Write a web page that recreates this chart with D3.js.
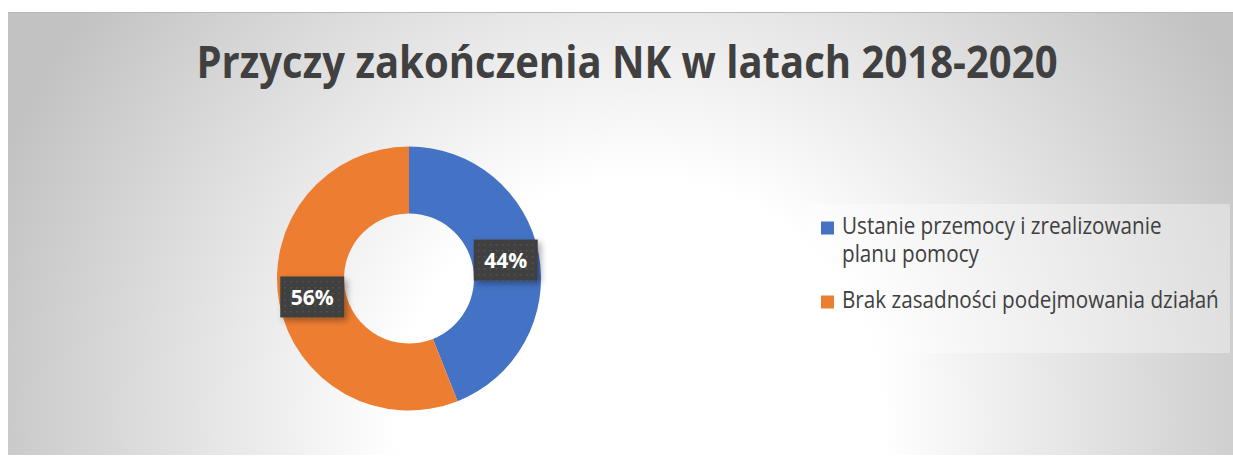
<!DOCTYPE html>
<html>
<head>
<meta charset="utf-8">
<script src="https://cdn.jsdelivr.net/npm/d3@7"></script>
<style>
  body { margin: 0; background: #fff; }
  svg { display: block; }
</style>
</head>
<body>
<div id="chart"></div>
<script>
// data
var categories = ["Ustanie przemocy i zrealizowanie planu pomocy", "Brak zasadności podejmowania działań"];
var legendLines = [["Ustanie przemocy i zrealizowanie", "planu pomocy"], ["Brak zasadności podejmowania działań"]];
var values = [44, 56];
var colors = ["#4472C4", "#ED7D31"];
var title = "Przyczy zakończenia NK w latach 2018-2020";

var W = 1233, H = 456;
var svg = d3.select("#chart").append("svg")
    .attr("width", W)
    .attr("height", H);

var defs = svg.append("defs");

// background gradient, light at bottom centre
var grad = defs.append("radialGradient")
    .attr("id", "bg")
    .attr("gradientUnits", "userSpaceOnUse")
    .attr("cx", 640).attr("cy", 420).attr("r", 690);
grad.append("stop").attr("offset", 0).attr("stop-color", "#ffffff");
grad.append("stop").attr("offset", 0.35).attr("stop-color", "#ffffff");
grad.append("stop").attr("offset", 1).attr("stop-color", "#c2c2c2");

var shadow = defs.append("filter").attr("id", "shadow")
    .attr("x", "-30%").attr("y", "-30%").attr("width", "160%").attr("height", "160%");
shadow.append("feDropShadow")
    .attr("dx", 3).attr("dy", 3).attr("stdDeviation", 3)
    .attr("flood-color", "#000").attr("flood-opacity", 0.35);

// dotted pattern for the label boxes
var pat = defs.append("pattern")
    .attr("id", "dots")
    .attr("patternUnits", "userSpaceOnUse")
    .attr("width", 6).attr("height", 6);
pat.append("rect").attr("width", 6).attr("height", 6).attr("fill", "#404040");
pat.append("rect").attr("x", 2).attr("y", 2).attr("width", 1.5).attr("height", 1.5).attr("fill", "#555");

// chart area
svg.append("rect")
    .attr("x", 8).attr("y", 12)
    .attr("width", W - 8).attr("height", H - 13)
    .attr("fill", "url(#bg)");
svg.append("line")
    .attr("x1", 8).attr("x2", W)
    .attr("y1", 12.5).attr("y2", 12.5)
    .attr("stroke", "#b8b8b8");

// title - fit to the width seen in the reference, stretched a bit (Calibri is narrower)
var tg = svg.append("g").attr("transform", "translate(627,78) scale(1,1.12)");
var t = tg.append("text")
    .attr("text-anchor", "middle")
    .style("font-family", "'Open Sans', sans-serif")
    .style("font-weight", "bold")
    .style("font-size", "40px")
    .style("fill", "#404040")
    .text(title);
var tw = t.node().getComputedTextLength();
t.style("font-size", (40 * 861 / tw) + "px");

// donut
var cx = 409, cy = 278.5, outerR = 132, innerR = 65;
var pie = d3.pie().sort(null).value(function (d) { return d; });
var arc = d3.arc().innerRadius(innerR).outerRadius(outerR);
var arcs = pie(values);

var g = svg.append("g").attr("transform", "translate(" + cx + "," + cy + ")");
g.selectAll("path.slice")
    .data(arcs)
    .enter().append("path")
    .attr("class", "slice")
    .attr("d", arc)
    .attr("fill", function (d, i) { return colors[i]; });

// data labels
var lab = g.selectAll("g.lab")
    .data(arcs)
    .enter().append("g")
    .attr("class", "lab")
    .attr("transform", function (d) {
        var c = arc.centroid(d);
        return "translate(" + c[0] + "," + c[1] + ")";
    });
lab.append("rect")
    .attr("x", -32).attr("y", -20.5)
    .attr("width", 64).attr("height", 41)
    .attr("fill", "url(#dots)")
    .attr("filter", "url(#shadow)");
lab.append("text")
    .attr("text-anchor", "middle")
    .attr("y", 8)
    .style("font-family", "'Open Sans', sans-serif")
    .style("font-weight", "bold")
    .style("font-size", "21px")
    .style("fill", "#ffffff")
    .text(function (d) { return d.data + "%"; });

// legend
var legend = svg.append("g");
legend.append("rect")
    .attr("x", 808).attr("y", 204)
    .attr("width", 422).attr("height", 149)
    .attr("fill", "#ffffff").attr("fill-opacity", 0.35);

var rowY = [234, 308];
var lineGap = 28;
var items = legend.selectAll("g.item")
    .data(categories)
    .enter().append("g")
    .attr("class", "item");
items.append("rect")
    .attr("x", 821)
    .attr("y", function (d, i) { return rowY[i] - 12.5; })
    .attr("width", 13).attr("height", 13)
    .attr("fill", function (d, i) { return colors[i]; });

// one text per line so wrapped lines stay separate
var ltext = items.selectAll("g.line")
    .data(function (d, i) { return legendLines[i].map(function (s, j) { return { s: s, y: rowY[i] + j * lineGap }; }); })
    .enter().append("g")
    .attr("class", "line")
    .attr("transform", function (d) { return "translate(842," + d.y + ") scale(1,1.12)"; })
    .append("text")
    .style("font-family", "'Open Sans', sans-serif")
    .style("font-size", "18px")
    .style("fill", "#404040")
    .text(function (d) { return d.s; });

// fit legend font to the long entry width
var lw = ltext.nodes()[2].getComputedTextLength();
ltext.style("font-size", (18 * 377 / lw) + "px");
</script>
</body>
</html>
